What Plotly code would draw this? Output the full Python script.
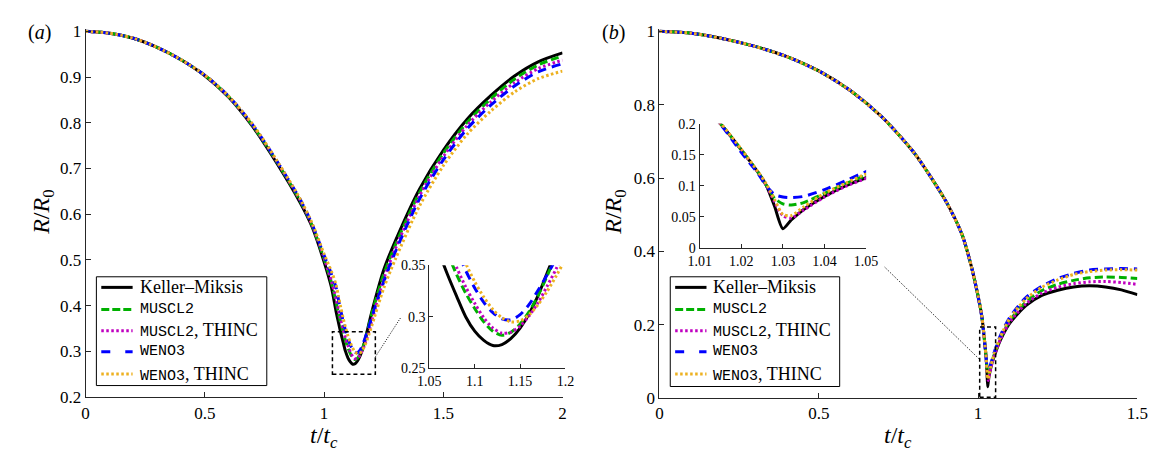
import plotly.graph_objects as go

# ---------------- data ----------------
series_names = ["Keller\u2013Miksis", "MUSCL2", "MUSCL2, THINC", "WENO3", "WENO3, THINC"]

# panel (a)
t_a = [0, 0.1, 0.2, 0.3, 0.4, 0.5, 0.6, 0.7, 0.8, 0.9, 0.95, 1.0, 1.03, 1.05, 1.06, 1.07,
       1.08, 1.09, 1.10, 1.11, 1.12, 1.13, 1.14, 1.15, 1.16, 1.17, 1.18, 1.19, 1.20,
       1.25, 1.3, 1.4, 1.5, 1.6, 1.7, 1.8, 1.9, 2.0]
km_a = [1.0, 0.996, 0.985, 0.965, 0.938, 0.903, 0.856, 0.792, 0.713, 0.625, 0.572, 0.496, 0.442,
        0.388, 0.364, 0.341, 0.320, 0.300, 0.286, 0.277, 0.272, 0.273, 0.279, 0.289, 0.303,
        0.321, 0.343, 0.365, 0.386, 0.478, 0.543, 0.655, 0.740, 0.808, 0.860, 0.903, 0.934, 0.953]
muscl_a = [1.0, 0.996, 0.985, 0.965, 0.938, 0.904, 0.857, 0.794, 0.716, 0.629, 0.575, 0.503, 0.452,
           0.408, 0.384, 0.362, 0.341, 0.323, 0.308, 0.295, 0.286, 0.282, 0.285, 0.293, 0.305,
           0.321, 0.340, 0.361, 0.382, 0.468, 0.534, 0.647, 0.733, 0.801, 0.853, 0.896, 0.927, 0.946]
muscl_thinc_a = [1.0, 0.996, 0.985, 0.965, 0.938, 0.904, 0.857, 0.795, 0.717, 0.630, 0.576, 0.505,
                 0.455, 0.415, 0.391, 0.369, 0.348, 0.329, 0.313, 0.299, 0.289, 0.284, 0.285,
                 0.291, 0.301, 0.314, 0.330, 0.347, 0.366, 0.458, 0.526, 0.640, 0.726, 0.794,
                 0.846, 0.888, 0.919, 0.937]
weno_a = [1.0, 0.996, 0.985, 0.965, 0.938, 0.904, 0.858, 0.796, 0.718, 0.632, 0.578, 0.510, 0.470,
          0.440, 0.414, 0.389, 0.366, 0.345, 0.328, 0.314, 0.304, 0.298, 0.297, 0.302, 0.312,
          0.326, 0.341, 0.357, 0.374, 0.452, 0.519, 0.633, 0.719, 0.787, 0.839, 0.881, 0.912, 0.929]
weno_thinc_a = [1.0, 0.996, 0.985, 0.965, 0.938, 0.904, 0.858, 0.797, 0.719, 0.633, 0.580, 0.513,
                0.476, 0.446, 0.421, 0.396, 0.373, 0.352, 0.334, 0.319, 0.307, 0.299, 0.295,
                0.296, 0.302, 0.312, 0.325, 0.340, 0.356, 0.438, 0.503, 0.618, 0.706, 0.775,
                0.826, 0.868, 0.897, 0.913]

# panel (b)
t_b = [0, 0.1, 0.2, 0.3, 0.4, 0.5, 0.6, 0.7, 0.8, 0.9, 0.95, 0.98, 1.0, 1.01, 1.015, 1.02, 1.024,
       1.026, 1.028, 1.03, 1.032, 1.035, 1.04, 1.045, 1.05, 1.07, 1.1, 1.15, 1.2, 1.25, 1.3,
       1.35, 1.4, 1.45, 1.5]
km_b = [1.0, 0.995, 0.980, 0.959, 0.931, 0.892, 0.838, 0.765, 0.668, 0.535, 0.445, 0.355, 0.278,
        0.232, 0.200, 0.158, 0.122, 0.101, 0.067, 0.031, 0.045, 0.062, 0.083, 0.100, 0.113,
        0.158, 0.205, 0.252, 0.280, 0.294, 0.303, 0.306, 0.303, 0.295, 0.282]
muscl_b = [1.0, 0.995, 0.980, 0.959, 0.931, 0.892, 0.838, 0.765, 0.668, 0.535, 0.445, 0.355, 0.278,
           0.232, 0.200, 0.158, 0.122, 0.101, 0.080, 0.071, 0.069, 0.073, 0.088, 0.103, 0.117,
           0.163, 0.212, 0.262, 0.293, 0.310, 0.321, 0.328, 0.330, 0.329, 0.326]
muscl_thinc_b = [1.0, 0.995, 0.980, 0.959, 0.931, 0.892, 0.838, 0.765, 0.668, 0.535, 0.445, 0.355,
                 0.278, 0.232, 0.200, 0.158, 0.122, 0.101, 0.074, 0.052, 0.048, 0.061, 0.082,
                 0.099, 0.112, 0.160, 0.208, 0.257, 0.286, 0.302, 0.312, 0.317, 0.318, 0.315, 0.310]
weno_b = [1.0, 0.995, 0.980, 0.959, 0.931, 0.892, 0.838, 0.765, 0.668, 0.535, 0.445, 0.355, 0.276,
          0.230, 0.199, 0.154, 0.120, 0.100, 0.086, 0.082, 0.081, 0.083, 0.094, 0.108, 0.123,
          0.170, 0.221, 0.274, 0.305, 0.326, 0.340, 0.349, 0.352, 0.353, 0.352]
weno_thinc_b = [1.0, 0.995, 0.980, 0.959, 0.931, 0.892, 0.838, 0.765, 0.668, 0.535, 0.445, 0.355,
                0.279, 0.233, 0.201, 0.159, 0.123, 0.103, 0.078, 0.054, 0.052, 0.066, 0.088,
                0.104, 0.119, 0.167, 0.218, 0.270, 0.302, 0.322, 0.337, 0.345, 0.349, 0.350, 0.349]

# ---------------- styling ----------------
W, H = 1160, 453
colors = ["#000000", "#00b000", "#c000c0", "#0000ff", "#edb120"]
dashes = ["solid", "8px,4px", "2.5px,2.5px", "9px,6px", "2.5px,2.5px"]
legend_dashes = ["solid", "8px,3px", "2.5px,2.5px", "9px,15px", "2.5px,2.5px"]
widths = [3, 3, 3, 3, 3]
SERIF = "'Liberation Serif', 'Times New Roman', 'DejaVu Serif', serif"
MONO = "Liberation Mono, DejaVu Sans Mono, monospace"
AX = "#262626"


def px_x(p):
    return p / W


def px_y(p):
    return 1 - p / H


def legend_label(name):
    if name.startswith("Keller"):
        return name
    parts = name.split(", ")
    s = '<span style="font-family:%s;font-size:15px">%s</span>' % (MONO, parts[0])
    if len(parts) > 1:
        s += ", " + parts[1]
    return s


fig = go.Figure()

panel_a = [km_a, muscl_a, muscl_thinc_a, weno_a, weno_thinc_a]
panel_b = [km_b, muscl_b, muscl_thinc_b, weno_b, weno_thinc_b]

for i, name in enumerate(series_names):
    line = dict(color=colors[i], dash=dashes[i], width=widths[i], shape="spline", smoothing=0.8)
    fig.add_trace(go.Scatter(x=t_a, y=panel_a[i], mode="lines", line=line, name=name,
                             xaxis="x", yaxis="y", showlegend=False))
    fig.add_trace(go.Scatter(x=t_a, y=panel_a[i], mode="lines", line=line, showlegend=False,
                             xaxis="x3", yaxis="y3", hoverinfo="skip"))
for i, name in enumerate(series_names):
    line = dict(color=colors[i], dash=dashes[i], width=widths[i], shape="spline", smoothing=0.7)
    fig.add_trace(go.Scatter(x=t_b, y=panel_b[i], mode="lines", line=line, name=name,
                             xaxis="x2", yaxis="y2", showlegend=False))
    fig.add_trace(go.Scatter(x=t_b, y=panel_b[i], mode="lines", line=line, showlegend=False,
                             xaxis="x4", yaxis="y4", hoverinfo="skip"))

axis_common = dict(showline=True, linecolor=AX, linewidth=1, ticks="inside", ticklen=5,
                   tickcolor=AX, showgrid=False, zeroline=False, mirror=False,
                   tickfont=dict(family=SERIF, size=17, color="black"))
inset_common = dict(axis_common, ticklen=4, tickfont=dict(family=SERIF, size=14, color="black"))

fig.update_layout(
    width=W, height=H, margin=dict(l=0, r=0, t=0, b=0),
    paper_bgcolor="white", plot_bgcolor="rgba(0,0,0,0)",
    font=dict(family=SERIF, color="black"),
    showlegend=False,
    xaxis=dict(axis_common, domain=[px_x(67), px_x(554)], range=[0, 2], anchor="y",
               tickvals=[0, 0.5, 1, 1.5, 2], ticktext=["0", "0.5", "1", "1.5", "2"]),
    yaxis=dict(axis_common, domain=[px_y(397), px_y(15)], range=[0.2, 1.0042], anchor="x",
               tickvals=[0.2, 0.3, 0.4, 0.5, 0.6, 0.7, 0.8, 0.9, 1.0],
               ticktext=["0.2", "0.3", "0.4", "0.5", "0.6", "0.7", "0.8", "0.9", "1"]),
    xaxis2=dict(axis_common, domain=[px_x(653), px_x(1141)], range=[0, 1.5], anchor="y2",
                tickvals=[0, 0.5, 1, 1.5], ticktext=["0", "0.5", "1", "1.5"]),
    yaxis2=dict(axis_common, domain=[px_y(398), px_y(15)], range=[0, 1.0052], anchor="x2",
                tickvals=[0, 0.2, 0.4, 0.6, 0.8, 1.0],
                ticktext=["0", "0.2", "0.4", "0.6", "0.8", "1"]),
    xaxis3=dict(inset_common, domain=[px_x(418), px_x(557)], range=[1.05, 1.2], anchor="y3",
                tickvals=[1.05, 1.1, 1.15, 1.2], ticktext=["1.05", "1.1", "1.15", "1.2"]),
    yaxis3=dict(inset_common, domain=[px_y(367), px_y(260)], range=[0.25, 0.35], anchor="x3",
                tickvals=[0.25, 0.3, 0.35], ticktext=["0.25", "0.3", "0.35"]),
    xaxis4=dict(inset_common, domain=[px_x(694), px_x(864)], range=[1.01, 1.05], anchor="y4",
                tickvals=[1.01, 1.02, 1.03, 1.04, 1.05],
                ticktext=["1.01", "1.02", "1.03", "1.04", "1.05"]),
    yaxis4=dict(inset_common, domain=[px_y(242), px_y(113)], range=[0, 0.2], anchor="x4",
                tickvals=[0, 0.05, 0.1, 0.15, 0.2], ticktext=["0", "0.05", "0.1", "0.15", "0.2"]),
)

# zoom boxes and connectors
box_a = dict(x0=1.035, x1=1.215, y0=0.25, y1=0.343)
box_b = dict(x0=1.005, x1=1.055, y0=0.002, y1=0.194)
fig.add_shape(type="rect", xref="x", yref="y", **box_a,
              line=dict(color="black", width=1.5, dash="4px,3px"))
fig.add_shape(type="rect", xref="x2", yref="y2", **box_b,
              line=dict(color="black", width=1.5, dash="4px,3px"))
fig.add_shape(type="line", xref="paper", yref="paper", x0=px_x(363), y0=px_y(355),
              x1=px_x(389), y1=px_y(314), line=dict(color="black", width=1, dash="1px,1.5px"))
fig.add_shape(type="line", xref="paper", yref="paper", x0=px_x(883), y0=px_y(262),
              x1=px_x(980), y1=px_y(358), line=dict(color="black", width=1, dash="1px,1.5px"))

# hand-drawn legends (box, sample line, label) for both panels
legend_boxes = [(78, 252, 272, 385, 83), (664, 837, 272, 386, 669)]
row_y = [283, 306, 328, 350, 373]
for (bx0, bx1, by0, by1, sx) in legend_boxes:
    fig.add_shape(type="rect", xref="paper", yref="paper", x0=px_x(bx0), x1=px_x(bx1),
                  y0=px_y(by1), y1=px_y(by0), fillcolor="white",
                  line=dict(color="black", width=1), layer="above")
    for i, name in enumerate(series_names):
        fig.add_shape(type="line", xref="paper", yref="paper", x0=px_x(sx), x1=px_x(sx + 32),
                      y0=px_y(row_y[i]), y1=px_y(row_y[i]),
                      line=dict(color=colors[i], width=3, dash=legend_dashes[i]), layer="above")
        fig.add_annotation(x=px_x(sx + 37), y=px_y(row_y[i]), xref="paper", yref="paper",
                           text=legend_label(name), showarrow=False, xanchor="left",
                           yanchor="middle", font=dict(family=SERIF, size=18, color="black"))

# labels
for (x, y, txt, ang, sz) in [
    (20, 18, "(<i>a</i>)", 0, 20), (606, 18, "(<i>b</i>)", 0, 20),
    (310, 438, "<i>t</i>/<i>t</i><sub><i>c</i></sub>", 0, 24),
    (897, 438, "<i>t</i>/<i>t</i><sub><i>c</i></sub>", 0, 24),
    (24, 205, "<i>R</i>/<i>R</i><sub>0</sub>", -90, 24),
    (608, 205, "<i>R</i>/<i>R</i><sub>0</sub>", -90, 24),
]:
    fig.add_annotation(x=px_x(x), y=px_y(y), xref="paper", yref="paper", text=txt,
                       showarrow=False, textangle=ang, xanchor="center", yanchor="middle",
                       font=dict(family=SERIF, size=sz, color="black"))

fig.write_html("out.html")
